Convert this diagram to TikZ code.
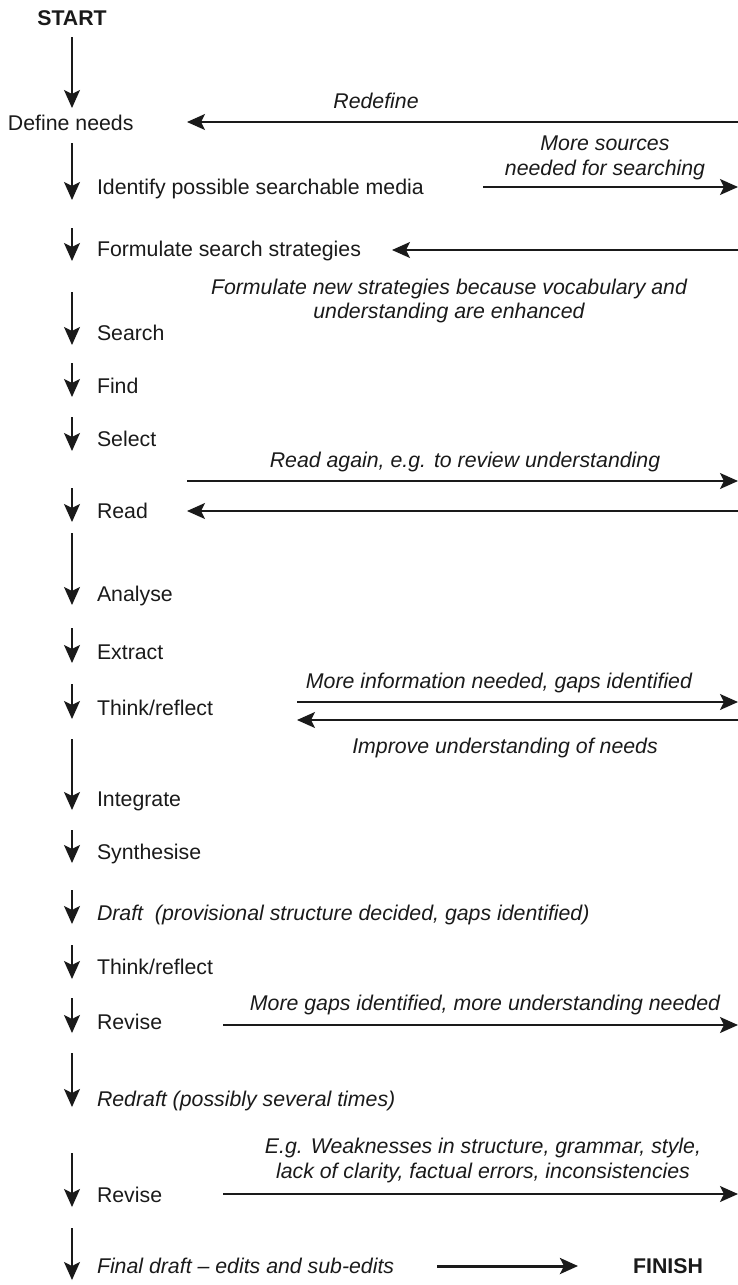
\documentclass[tikz,border=0pt]{standalone}
\usepackage{fontspec}
\setmainfont{Liberation Sans}
\usetikzlibrary{arrows.meta}
\definecolor{ink}{HTML}{1A1A1A}
\begin{document}
\begin{tikzpicture}[x=1pt,y=-1pt,
  every node/.style={inner sep=0pt, outer sep=0pt, text=ink,
    font=\fontsize{21.3}{25}\selectfont, text height=15pt, text depth=0pt},
  stepnode/.style={anchor=west},
  stepit/.style={anchor=west, font=\fontsize{21.3}{25}\selectfont\itshape},
  endpoint/.style={font=\fontsize{21.3}{25}\selectfont\bfseries},
  note/.style={font=\fontsize{21.3}{25}\selectfont\itshape},
  headed/.style={-{Stealth[length=18pt,width=16pt,inset=4pt]}, draw=ink},
  flow/.style={headed, line width=1.4pt},
  loopback/.style={headed, line width=1.4pt},
  finalarrow/.style={headed, line width=3pt},
]
\useasboundingbox (0,0) rectangle (738,1285);

% ---- main sequence of steps ----
\node[endpoint] (start) at (72,18) {START};
\node[stepnode] (define) at (8,123) {Define needs};
\node[stepnode] (identify) at (97,187) {Identify possible searchable media};
\node[stepnode] (formulate) at (97,249) {Formulate search strategies};
\node[stepnode] (search) at (97,333) {Search};
\node[stepnode] (find) at (97,386) {Find};
\node[stepnode] (select) at (97,439) {Select};
\node[stepnode] (read) at (97,511) {Read};
\node[stepnode] (analyse) at (97,594) {Analyse};
\node[stepnode] (extract) at (97,652) {Extract};
\node[stepnode] (thinkA) at (97,708) {Think/reflect};
\node[stepnode] (integrate) at (97,799) {Integrate};
\node[stepnode] (synth) at (97,852) {Synthesise};
\node[stepit] (draft) at (97,913) {Draft\ \ (provisional structure decided, gaps identified)};
\node[stepnode] (thinkB) at (97,967) {Think/reflect};
\node[stepnode] (reviseA) at (97,1022) {Revise};
\node[stepit] (redraft) at (97,1099) {Redraft (possibly several times)};
\node[stepnode] (reviseB) at (97,1195) {Revise};
\node[stepit] (final) at (97,1266) {Final draft -- edits and sub-edits};
\node[endpoint] (finish) at (668,1266) {FINISH};

% ---- downward arrows along the left edge ----
\foreach \i/\a/\b in {1/37/108, 2/143/200, 3/228/261, 4/292/345, 5/363/397,
    6/417/451, 7/488/522, 8/533/605, 9/628/663, 10/684/719, 11/739/810,
    12/830/863, 13/890/924, 14/945/979, 15/998/1033, 16/1053/1107,
    17/1153/1207, 18/1228/1280} {
  \coordinate (v\i s) at (72,\a);
  \coordinate (v\i e) at (72,\b);
  \draw[flow] (v\i s) -- (v\i e);
}

% ---- feedback loops to and from the right margin ----
\coordinate (redefR) at (738,122);   \coordinate (redefL) at (187,122);
\draw[loopback] (redefR) -- (redefL);
\node[note] (redefLbl) at (376,101) {Redefine};

\coordinate (srcL) at (483,187);     \coordinate (srcR) at (738,187);
\draw[loopback] (srcL) -- (srcR);
\node[note] (srcLblA) at (605,143) {More sources};
\node[note] (srcLblB) at (605,168) {needed for searching};

\coordinate (stratR) at (738,250);   \coordinate (stratL) at (392,250);
\draw[loopback] (stratR) -- (stratL);
\node[note] (stratLblA) at (449,287) {Formulate new strategies because vocabulary and};
\node[note] (stratLblB) at (449,311) {understanding are enhanced};

\coordinate (againL) at (187,481);   \coordinate (againR) at (738,481);
\draw[loopback] (againL) -- (againR);
\node[note] (againLbl) at (465,460) {Read again, e.g. to review understanding};

\coordinate (readR) at (738,511);    \coordinate (readL) at (187,511);
\draw[loopback] (readR) -- (readL);

\coordinate (infoL) at (297,702);    \coordinate (infoR) at (738,702);
\draw[loopback] (infoL) -- (infoR);
\node[note] (infoLbl) at (499,681) {More information needed, gaps identified};

\coordinate (needR) at (738,720);    \coordinate (needL) at (297,720);
\draw[loopback] (needR) -- (needL);
\node[note] (needLbl) at (505,746) {Improve understanding of needs};

\coordinate (gapsL) at (223,1025);   \coordinate (gapsR) at (738,1025);
\draw[loopback] (gapsL) -- (gapsR);
\node[note] (gapsLbl) at (485,1003) {More gaps identified, more understanding needed};

\coordinate (weakL) at (223,1194);   \coordinate (weakR) at (738,1194);
\draw[loopback] (weakL) -- (weakR);
\node[note] (weakLblA) at (483,1146) {E.g. Weaknesses in structure, grammar, style,};
\node[note] (weakLblB) at (483,1171) {lack of clarity, factual errors, inconsistencies};

% ---- last step to the finish ----
\coordinate (finL) at (437,1266);
\draw[finalarrow] (finL) -- (finish.west -| 578,0);
\end{tikzpicture}
\end{document}
